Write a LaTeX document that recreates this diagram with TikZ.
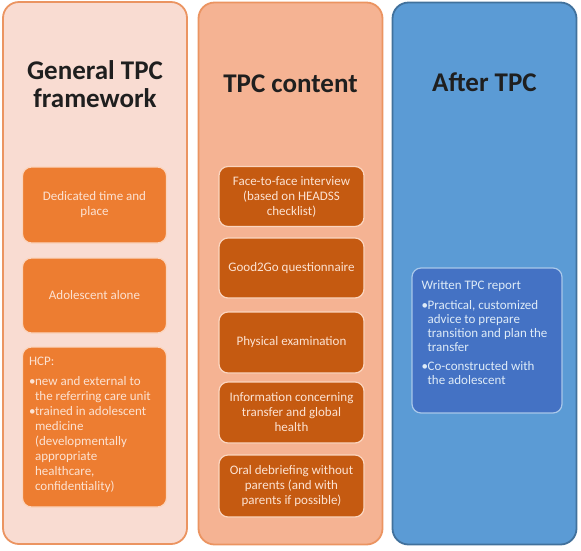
\documentclass[tikz,border=0pt]{standalone}
\usepackage{fontspec}
\setmainfont{Carlito}
\usetikzlibrary{positioning}
\definecolor{peachbg}{HTML}{F9DCD2}
\definecolor{salmonbg}{HTML}{F5B393}
\definecolor{skybg}{HTML}{5B9BD5}
\definecolor{orline}{HTML}{EB9461}
\definecolor{blline}{HTML}{41719C}
\definecolor{orfill}{HTML}{ED7D31}
\definecolor{rustfill}{HTML}{C55A11}
\definecolor{royfill}{HTML}{4472C4}
\definecolor{paleor}{HTML}{FBD5BF}
\definecolor{palebl}{HTML}{A9C8EA}
\definecolor{ortext}{HTML}{FCE2D2}
\definecolor{bltext}{HTML}{DEEBF7}
\newcommand{\bul}{\makebox[6pt][l]{\textbullet}}
\newcommand{\indt}{\hspace*{6pt}}

\begin{document}
\begin{tikzpicture}[x=1pt,y=-1pt,
  colbox/.style={draw,rounded corners=16pt,line width=1.8pt,minimum width=184pt,minimum height=542pt,inner sep=0pt},
  itembox/.style={draw=paleor,rounded corners=9pt,line width=1.2pt,minimum width=144pt,inner sep=0pt,align=center,text=ortext,font=\fontsize{13}{15}\selectfont},
  listtext/.style={inner sep=0pt,align=left,font=\fontsize{13}{15}\selectfont},
  heading/.style={font=\fontsize{27}{28}\selectfont\bfseries,text=black!88,align=center,inner sep=0pt}]
\useasboundingbox (0,0) rectangle (581,550);
% columns
\node[colbox,draw=orline,fill=peachbg] (general) at (95,273) {};
\node[colbox,draw=orline,fill=salmonbg] (content) at (290.5,273.5) {};
\node[colbox,draw=blline,fill=skybg] (after) at (484.5,273.5) {};
\node[heading] (generaltitle) at (95,84) {General TPC\\framework};
\node[heading,anchor=base] (contenttitle) at (290.5,92) {TPC content};
\node[heading,anchor=base] (aftertitle) at (484.5,91) {After TPC};
% framework
\node[itembox,fill=orfill,minimum height=76pt] (dedicated) at (94.5,205) {Dedicated time and\\place};
\node[itembox,fill=orfill,minimum height=75pt] (alone) at (94.5,295.5) {Adolescent alone};
\node[itembox,fill=orfill,minimum height=160pt] (hcp) at (94.5,427) {};
\node[listtext,text=ortext,anchor=north west] (hcptext) at ([xshift=7pt,yshift=-10pt]hcp.north west) {HCP:\\[5pt]\bul new and external to\\\indt the referring care unit\\\bul trained in adolescent\\\indt medicine\\\indt (developmentally\\\indt appropriate\\\indt healthcare,\\\indt confidentiality)};
% content
\node[itembox,fill=rustfill,minimum width=145pt,minimum height=60pt] (interview) at (291.5,196.5) {Face-to-face interview\\(based on HEADSS\\checklist)};
\node[itembox,fill=rustfill,minimum width=145pt,minimum height=60pt] (good2go) at (291.5,268) {Good2Go questionnaire};
\node[itembox,fill=rustfill,minimum width=145pt,minimum height=61pt] (exam) at (291.5,342.5) {Physical examination};
\node[itembox,fill=rustfill,minimum width=145pt,minimum height=61pt] (info) at (291.5,412.5) {Information concerning\\transfer and global\\health};
\node[itembox,fill=rustfill,minimum width=145pt,minimum height=62pt] (debrief) at (291.5,486) {Oral debriefing without\\parents (and with\\parents if possible)};
% after
\node[itembox,draw=palebl,fill=royfill,minimum width=150pt,minimum height=145pt] (report) at (487,340.5) {};
\node[listtext,text=bltext,anchor=north west,font=\fontsize{13}{14}\selectfont] (reporttext) at ([xshift=10pt,yshift=-13pt]report.north west) {Written TPC report\\[6pt]\bul Practical, customized\\\indt advice to prepare\\\indt transition and plan the\\\indt transfer\\[5pt]\bul Co-constructed with\\\indt the adolescent};
\end{tikzpicture}
\end{document}
